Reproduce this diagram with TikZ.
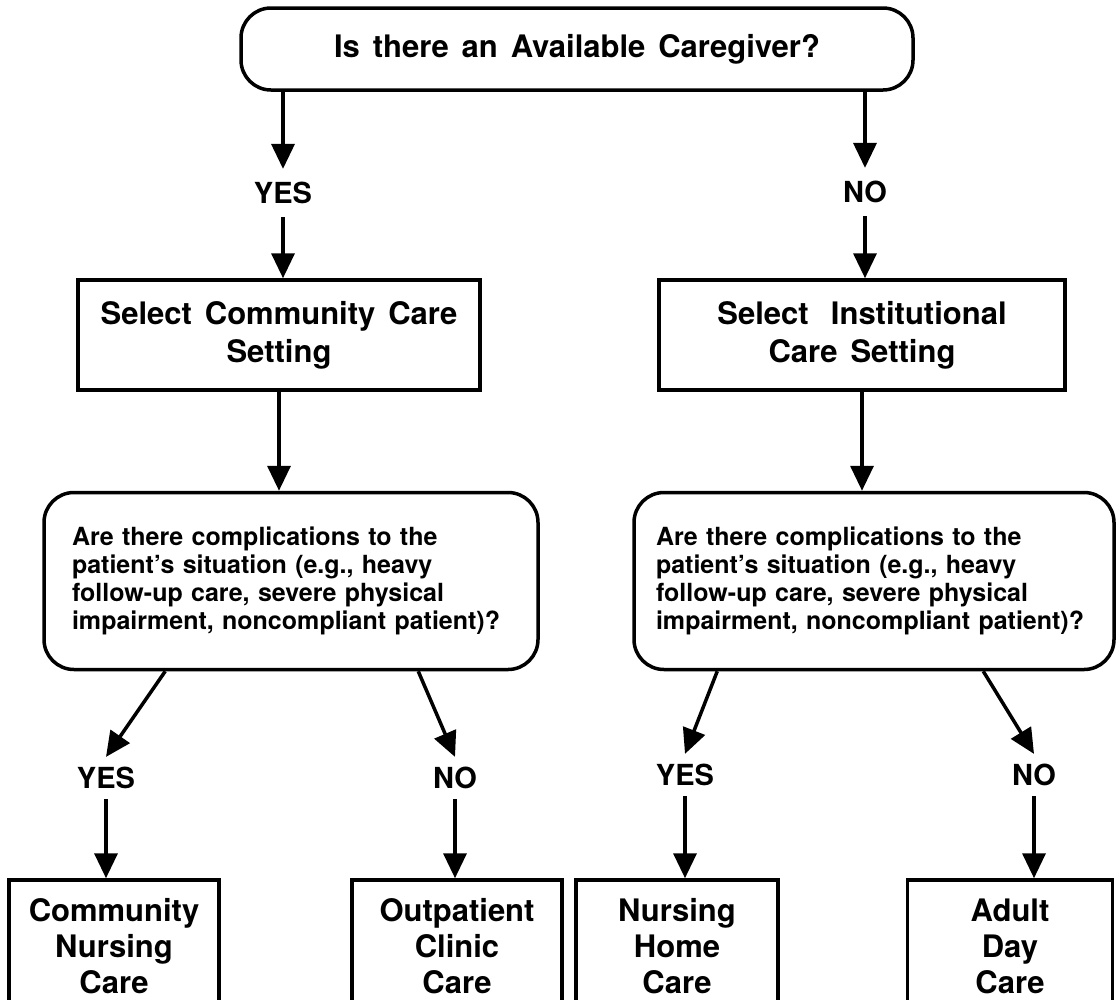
\documentclass[tikz,border=0pt]{standalone}
\usepackage{fontspec}
\setmainfont{TeX Gyre Heros}[WordSpace=1.5]
\usetikzlibrary{arrows.meta}

\begin{document}
\begin{tikzpicture}[x=1pt, y=-1pt,
  query/.style={draw, line width=3.5pt, rounded corners=30pt, inner sep=0pt,
    font=\fontsize{31pt}{36pt}\selectfont\bfseries},
  ask/.style={draw, line width=3.5pt, rounded corners=30pt, align=left,
    inner ysep=0pt, minimum height=177pt, font=\fontsize{25pt}{28pt}\selectfont\bfseries},
  setbox/.style={draw, line width=3.5pt, align=center, minimum height=110pt,
    inner sep=0pt, font=\fontsize{31pt}{38pt}\selectfont\bfseries},
  reply/.style={inner xsep=0pt, inner ysep=12pt, font=\fontsize{29pt}{34pt}\selectfont\bfseries},
  outcome/.style={draw, line width=3.5pt, align=center, minimum height=132pt,
    inner sep=0pt, font=\fontsize{31pt}{36pt}\selectfont\bfseries},
  flow/.style={line width=3.5pt, -{Triangle[length=25pt, width=23pt]}},
]
  \clip (0,0) rectangle (1119,999);

  \node[query, minimum width=672pt, minimum height=82pt] (top) at (577,49)
    {Is there an Available Caregiver?};

  \node[reply, inner ysep=13pt] (yes1) at (283,193) {YES};
  \node[reply, inner ysep=13pt] (no1) at (865,192) {NO};

  \node[setbox, minimum width=402pt] (comm) at (279,335)
    {Select Community Care\\Setting};
  \node[setbox, minimum width=406pt] (inst) at (862,335)
    {Select\hspace{0.3em} Institutional\\Care Setting};

  \node[ask, text width=438pt, inner xsep=28pt] (q1) at (291,581)
    {Are there complications to the\\
     patient's situation (e.g., heavy\\
     follow-up care, severe physical\\
     impairment, noncompliant patient)?};
  \node[ask, text width=436pt, inner xsep=22pt] (q2) at (874,581)
    {Are there complications to the\\
     patient's situation (e.g., heavy\\
     follow-up care, severe physical\\
     impairment, noncompliant patient)?};

  \node[reply, inner ysep=10pt] (yes2) at (106,778) {YES};
  \node[reply, inner ysep=10pt] (no2) at (455,778) {NO};
  \node[reply, inner ysep=10pt] (yes3) at (685,775) {YES};
  \node[reply, inner ysep=10pt] (no3) at (1034,775) {NO};

  \node[outcome, minimum width=210pt] (cnc) at (114,946)
    {Community\\Nursing\\Care};
  \node[outcome, minimum width=210pt] (opc) at (457,946)
    {Outpatient\\Clinic\\Care};
  \node[outcome, minimum width=202pt] (nhc) at (677,946)
    {Nursing\\Home\\Care};
  \node[outcome, minimum width=205pt] (adc) at (1010,946)
    {Adult\\Day\\Care};

  \draw[flow] (top.south -| yes1) -- (yes1.north);
  \draw[flow] (yes1.south) -- (yes1.south |- comm.north);
  \draw[flow] (top.south -| no1) -- (no1.north);
  \draw[flow] (no1.south) -- (no1.south |- inst.north);

  \draw[flow] (comm.south) -- (comm.south |- q1.north);
  \draw[flow] (inst.south) -- (inst.south |- q2.north);

  \draw[flow] ([xshift=123pt]q1.south west) -- (yes2.north);
  \draw[flow] ([xshift=376pt]q1.south west) -- (no2.north);
  \draw[flow] ([xshift=85pt]q2.south west) -- (yes3.north);
  \draw[flow] ([xshift=351pt]q2.south west) -- (no3.north);

  \draw[flow] (yes2.south) -- (yes2.south |- cnc.north);
  \draw[flow] (no2.south) -- (no2.south |- opc.north);
  \draw[flow] (yes3.south) -- (yes3.south |- nhc.north);
  \draw[flow] (no3.south) -- (no3.south |- adc.north);
\end{tikzpicture}
\end{document}
